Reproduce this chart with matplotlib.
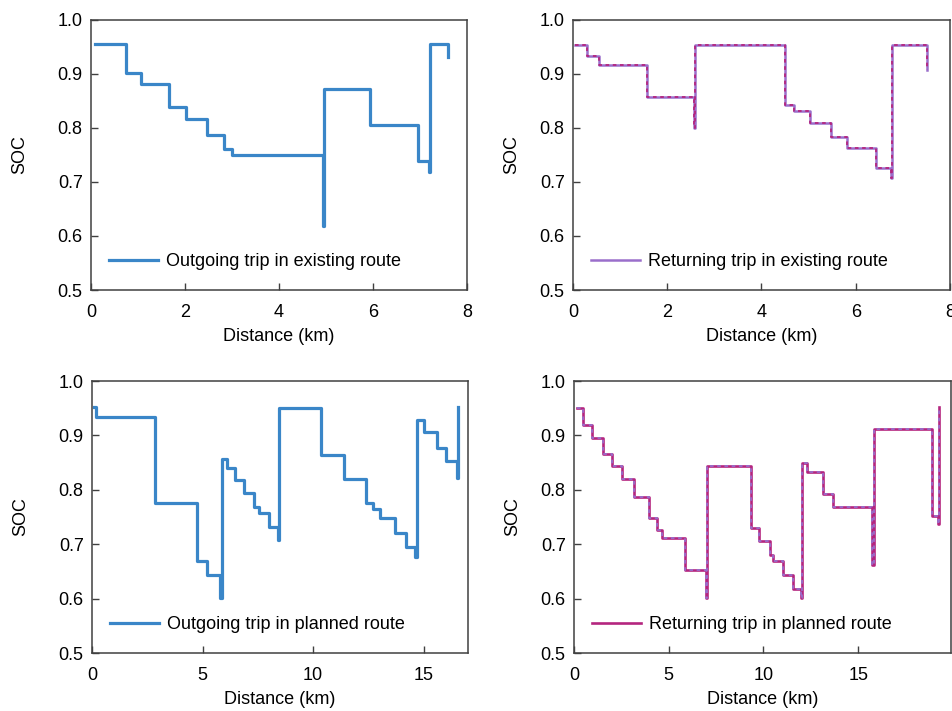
import matplotlib
matplotlib.use("Agg")
import matplotlib.pyplot as plt

plt.rcParams['font.family'] = ['Liberation Sans', 'DejaVu Sans']

# ---- data (distance breakpoints in km, SOC level after each breakpoint) ----
out_exist_x = [0.09, 0.74, 1.06, 1.67, 2.02, 2.46, 2.84, 3.01, 4.93, 4.96, 5.94, 6.95, 7.20, 7.22, 7.59]
out_exist_y = [0.954, 0.901, 0.880, 0.839, 0.817, 0.787, 0.760, 0.750, 0.619, 0.872, 0.805, 0.738, 0.719, 0.954, 0.930]

ret_exist_x = [0.04, 0.29, 0.56, 1.57, 2.56, 2.58, 4.49, 4.68, 5.03, 5.48, 5.82, 6.44, 6.75, 6.77, 7.52]
ret_exist_y = [0.953, 0.932, 0.915, 0.857, 0.800, 0.953, 0.842, 0.831, 0.808, 0.783, 0.762, 0.725, 0.707, 0.953, 0.906]

out_plan_x = [0.08, 0.17, 2.84, 4.73, 5.18, 5.79, 5.86, 6.09, 6.47, 6.89, 7.33, 7.55, 7.99, 8.40, 8.47,
              10.35, 11.40, 12.40, 12.69, 13.04, 13.69, 14.21, 14.62, 14.70, 15.00, 15.60, 16.01, 16.51, 16.56]
out_plan_y = [0.952, 0.934, 0.776, 0.669, 0.644, 0.601, 0.857, 0.840, 0.818, 0.794, 0.768, 0.757, 0.731, 0.707, 0.951,
              0.864, 0.820, 0.776, 0.765, 0.748, 0.720, 0.695, 0.676, 0.929, 0.907, 0.876, 0.853, 0.821, 0.952]

ret_plan_x = [0.18, 0.49, 0.96, 1.53, 2.02, 2.51, 3.16, 3.95, 4.39, 4.65, 5.88, 6.98, 7.03, 9.33, 9.79,
              10.32, 10.53, 11.05, 11.54, 11.96, 12.02, 12.32, 13.12, 13.65, 15.75, 15.81, 18.91, 19.21, 19.26]
ret_plan_y = [0.951, 0.920, 0.896, 0.866, 0.843, 0.820, 0.786, 0.748, 0.727, 0.711, 0.653, 0.601, 0.844, 0.730, 0.705,
              0.681, 0.669, 0.643, 0.618, 0.601, 0.849, 0.832, 0.793, 0.768, 0.661, 0.911, 0.752, 0.737, 0.952]

labels = ["Outgoing trip in existing route", "Returning trip in existing route",
          "Outgoing trip in planned route", "Returning trip in planned route"]
yticks = [0.5, 0.6, 0.7, 0.8, 0.9, 1.0]
xticks_exist = [0, 2, 4, 6, 8]
xticks_plan = [0, 5, 10, 15]

BLUE = '#3a86c8'
MAGENTA = '#b4257f'
PURPLE = '#9a6ecb'
FS = 13

W, H = 953, 711
fig = plt.figure(figsize=(W / 100, H / 100), dpi=100)

def box(l, r, t, b):
    return [l / W, 1 - b / H, (r - l) / W, (b - t) / H]

ax1 = fig.add_axes(box(91, 467, 19.5, 290))
ax2 = fig.add_axes(box(573, 950, 19.5, 290))
ax3 = fig.add_axes(box(92, 468, 381, 653))
ax4 = fig.add_axes(box(574, 951, 381, 653))

ax1.step(out_exist_x, out_exist_y, where='post', color=BLUE, lw=2.3, label=labels[0])
ax2.step(ret_exist_x, ret_exist_y, where='post', color=PURPLE, lw=1.8, label=labels[1])
ax2.step(ret_exist_x, ret_exist_y, where='post', color=MAGENTA, lw=1.3, ls=(0, (2, 2)))
ax3.step(out_plan_x, out_plan_y, where='post', color=BLUE, lw=2.3, label=labels[2])
ax4.step(ret_plan_x, ret_plan_y, where='post', color=MAGENTA, lw=1.9, label=labels[3])
ax4.step(ret_plan_x, ret_plan_y, where='post', color=PURPLE, lw=1.3, ls=(0, (2, 2)))

settings = [
    (ax1, (0, 8), xticks_exist, -0.168),
    (ax2, (0, 8), xticks_exist, -0.141),
    (ax3, (0, 17), xticks_plan, -0.168),
    (ax4, (0, 19.9), xticks_plan, -0.141),
]
for ax, xl, xt, ylx in settings:
    ax.set_xlim(*xl)
    ax.set_ylim(0.5, 1.0)
    ax.set_xticks(xt)
    ax.set_yticks(yticks)
    ax.set_yticklabels([f"{v:.1f}" for v in yticks])
    ax.tick_params(axis='both', direction='in', length=5, width=1, color='#404040',
                   labelsize=FS, top=False, right=False)
    ax.tick_params(axis='x', pad=10)
    ax.tick_params(axis='y', pad=6)
    for s in ax.spines.values():
        s.set_color('#404040')
        s.set_linewidth(1.1)
    ax.set_xlabel("Distance (km)", fontsize=FS, labelpad=5)
    ax.set_ylabel("SOC", fontsize=FS)
    ax.yaxis.set_label_coords(ylx, 0.5)
    leg = ax.legend(loc='center left', bbox_to_anchor=(0.005, 0.105), frameon=False,
                    fontsize=FS, handlelength=2.7, handletextpad=0.45, borderpad=0.4)

fig.savefig("out.png", dpi=100)
